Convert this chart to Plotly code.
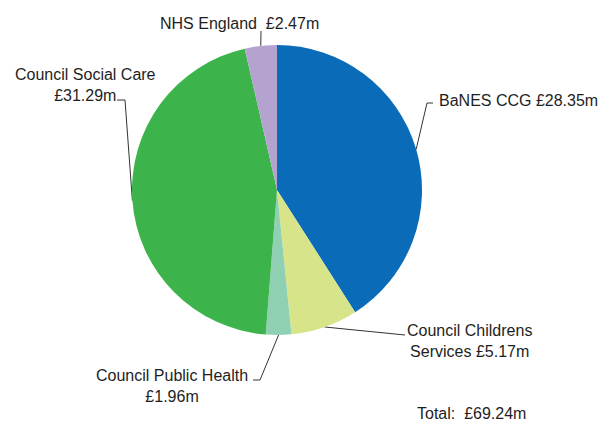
import math
import plotly.graph_objects as go

labels = ["BaNES CCG", "Council Childrens Services", "Council Public Health",
          "Council Social Care", "NHS England"]
values = [28.35, 5.17, 1.96, 31.29, 2.47]
colors = ["#0a6cb8", "#d8e48a", "#8fd0b3", "#3cb44b", "#b3a3ce"]
label_texts = [
    "BaNES CCG £28.35m",
    "Council Childrens<br>Services £5.17m",
    "Council Public Health<br>£1.96m",
    "Council Social Care<br>£31.29m",
    "NHS England\u00a0\u00a0£2.47m",
]
total_text = "Total:\u00a0\u00a0£69.24m"

W, H = 606, 425
CX, CY, R = 277, 190, 145

# label anchor positions (pixels) and leader elbows
label_pos = [(437, 100, "left"), (469, 341, "center"), (172, 386, "center"),
             (85, 85, "center"), (158, 23, "left")]
elbows = [[(427, 103), (433, 103)],
          [(402, 335), (405, 335)],
          [(260, 380), (253, 380)],
          [(125, 100), (117, 100)],
          [(261, 31)]]

fig = go.Figure()

fig.add_trace(go.Pie(
    labels=labels, values=values, sort=False, direction="clockwise", rotation=0,
    marker=dict(colors=colors, line=dict(width=0)),
    textinfo="none", hoverinfo="label+value", showlegend=False,
    domain=dict(x=[(CX - R) / W, (CX + R) / W], y=[1 - (CY + R) / H, 1 - (CY - R) / H]),
))

total = sum(values)
cum = 0.0
for i, v in enumerate(values):
    mid = (cum + v / 2) / total * 2 * math.pi
    cum += v
    ex = CX + R * math.sin(mid)
    ey = CY - R * math.cos(mid)
    xs = [ex] + [p[0] for p in elbows[i]]
    ys = [ey] + [p[1] for p in elbows[i]]
    fig.add_trace(go.Scatter(x=xs, y=ys, mode="lines", line=dict(color="#333333", width=1),
                             hoverinfo="skip", showlegend=False))
    lx, ly, anc = label_pos[i]
    fig.add_annotation(x=lx, y=ly, xref="x", yref="y", text=label_texts[i], showarrow=False,
                       xanchor=anc, yanchor="middle", align="center",
                       font=dict(family="Liberation Sans, Arial", size=16, color="#1e1e1e"))

fig.add_annotation(x=415, y=413, xref="x", yref="y", text=total_text, showarrow=False,
                   xanchor="left", yanchor="middle",
                   font=dict(family="Liberation Sans, Arial", size=16, color="#1e1e1e"))

fig.update_layout(
    width=W, height=H, margin=dict(l=0, r=0, t=0, b=0),
    paper_bgcolor="white", plot_bgcolor="white",
    xaxis=dict(range=[0, W], visible=False, fixedrange=True),
    yaxis=dict(range=[H, 0], visible=False, fixedrange=True),
)

fig.write_html("out.html")
